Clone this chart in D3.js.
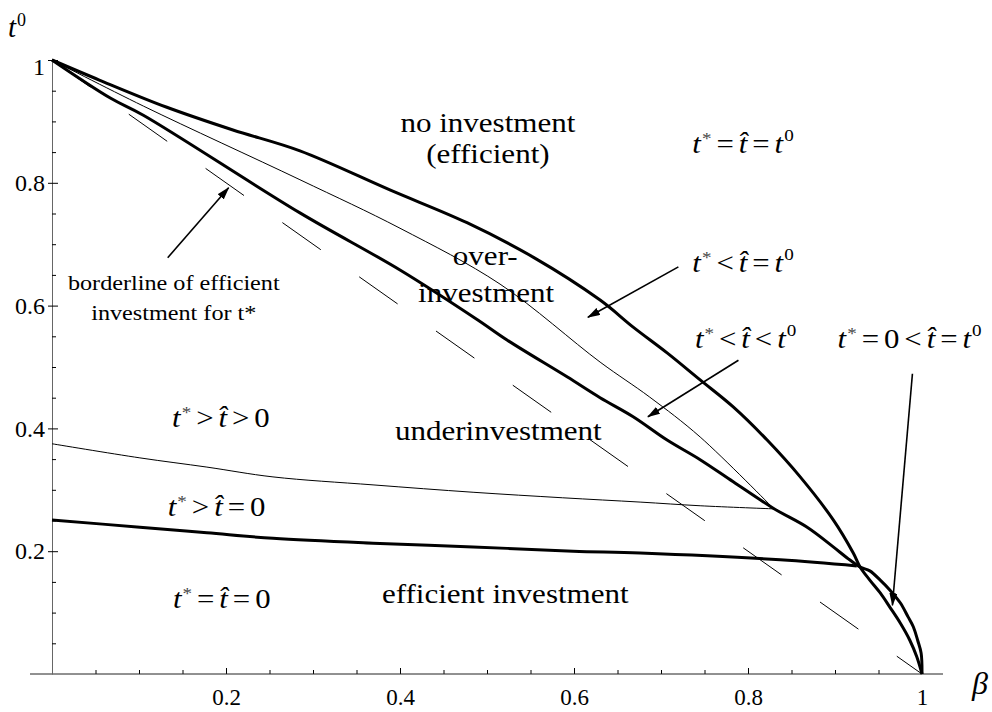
<!DOCTYPE html>
<html>
<head>
<meta charset="utf-8">
<script src="https://cdn.jsdelivr.net/npm/d3@7"></script>
<style>
body { margin: 0; background: #fff; }
svg text { font-family: "Liberation Serif", "Times New Roman", serif; fill: #000; }
</style>
</head>
<body>
<script>
var width = 992, height = 712;

// boundary curves, as [beta, t0]
var noInvestBorder = [[0,1],[0.055,0.967],[0.132,0.923],[0.208,0.886],[0.285,0.852],[0.389,0.788],
	[0.477,0.735],[0.553,0.679],[0.630,0.609],[0.668,0.565],[0.707,0.523],[0.745,0.479],[0.783,0.435],
	[0.822,0.381],[0.860,0.321],[0.898,0.251],[0.921,0.197],[0.929,0.174],[0.940,0.153],[0.952,0.132],
	[0.963,0.109],[0.975,0.083],[0.986,0.055],[0.994,0.028],[1,0]];
var overInvestBorder = [[0,1],[0.067,0.938],[0.105,0.910],[0.285,0.751],[0.400,0.658],[0.489,0.577],
	[0.523,0.544],[0.592,0.484],[0.630,0.450],[0.668,0.419],[0.707,0.381],[0.745,0.349],[0.783,0.313],
	[0.829,0.270],[0.868,0.239],[0.898,0.207],[0.914,0.189],[0.929,0.174],[0.940,0.168],[0.952,0.153],
	[0.963,0.137],[0.975,0.116],[0.984,0.093],[0.990,0.077],[0.995,0.055],[0.999,0.034],[1,0]];
var hatBorder = [[0,1],[0.105,0.925],[0.285,0.805],[0.400,0.726],[0.515,0.635],[0.630,0.508],
	[0.687,0.451],[0.745,0.386],[0.829,0.270]];
var upperZeroBorder = [[0,0.375],[0.101,0.352],[0.178,0.337],[0.254,0.321],[0.369,0.308],[0.484,0.296],
	[0.587,0.287],[0.676,0.280],[0.745,0.274],[0.829,0.269]];
var lowerZeroBorder = [[0,0.251],[0.101,0.239],[0.178,0.230],[0.254,0.221],[0.369,0.213],[0.484,0.207],
	[0.599,0.200],[0.676,0.197],[0.837,0.186],[0.925,0.176]];
var efficientStar = [[0,1],[1,0]];

var xTicks = [0.2, 0.4, 0.6, 0.8, 1];
var yTicks = [0.2, 0.4, 0.6, 0.8, 1];
var minorTicks = d3.range(1, 20).map(function(i){ return i / 20; }).filter(function(v, i){ return (i + 1) % 4 != 0; });

// text labels [beta, t0, text]
var regionLabels = [[0.501,0.883,"no investment"],[0.501,0.832,"(efficient)"],[0.498,0.666,"over-"],
	[0.499,0.606,"investment"],[0.513,0.381,"underinvestment"],[0.521,0.116,"efficient investment"]];
var noteLabels = [[0.140,0.625,"borderline of efficient"],[0.140,0.577,"investment for t*"]];
var mathLabels = [
	[0.736,0.849,[["t","*"],"=",["t\u0302"],"=",["t","0"]]],
	[0.736,0.655,[["t","*"],"<",["t\u0302"],"=",["t","0"]]],
	[0.739,0.531,[["t","*"],"<",["t\u0302"],"<",["t","0"]]],
	[0.903,0.531,[["t","*"],"=","0","<",["t\u0302"],"=",["t","0"]]],
	[0.138,0.402,[["t","*"],">",["t\u0302"],">","0"]],
	[0.133,0.257,[["t","*"],">",["t\u0302"],"=","0"]],
	[0.139,0.107,[["t","*"],"=",["t\u0302"],"=","0"]]
];
// arrows [from beta, from t0, to beta, to t0]
var arrows = [[0.133,0.678,0.203,0.792],[0.720,0.663,0.616,0.581],[0.789,0.511,0.685,0.419],[0.989,0.489,0.966,0.112]];

var x = d3.scaleLinear().domain([0, 1]).range([52, 922]);
var y = d3.scaleLinear().domain([0, 1]).range([674, 60]);

var svg = d3.select("body").append("svg")
	.attr("width", width)
	.attr("height", height);

svg.append("defs").append("marker")
	.attr("id", "head")
	.attr("markerUnits", "userSpaceOnUse")
	.attr("markerWidth", 13).attr("markerHeight", 8)
	.attr("refX", 12).attr("refY", 4)
	.attr("orient", "auto")
	.append("path")
	.attr("d", "M0,0 L13,4 L0,8 Z");

// axes
var xAxis = svg.append("g").attr("transform", "translate(0," + y(0) + ")")
	.call(d3.axisBottom(x).tickValues(xTicks).tickSizeInner(-6).tickSizeOuter(0)
		.tickFormat(function(d){ return d == 1 ? "1" : d.toFixed(1); }));
xAxis.select(".domain").remove();
xAxis.selectAll("text").attr("y", 31).attr("dy", null).attr("font-size", 23);
xAxis.append("g").call(d3.axisBottom(x).tickValues(minorTicks).tickSize(-4).tickFormat(""))
	.select(".domain").remove();
xAxis.append("line").attr("x1", 30).attr("x2", 943).attr("stroke", "#222");

var yAxis = svg.append("g").attr("transform", "translate(" + x(0) + ",0)")
	.call(d3.axisLeft(y).tickValues(yTicks).tickSizeInner(-6).tickSizeOuter(0).tickPadding(7)
		.tickFormat(function(d){ return d == 1 ? "1" : d.toFixed(1); }));
yAxis.select(".domain").attr("stroke", "#666");
yAxis.selectAll(".tick line").attr("x1", -4);
yAxis.selectAll("text").attr("font-size", 24).attr("dy", function(d){ return d == 1 ? "0.62em" : "0.32em"; });
yAxis.append("g").call(d3.axisLeft(y).tickValues(minorTicks).tickSize(-4).tickFormat(""))
	.select(".domain").remove();

// curves
var line = d3.line()
	.x(function(d){ return x(d[0]); })
	.y(function(d){ return y(d[1]); })
	.curve(d3.curveCatmullRom.alpha(0.5));

var curves = [
	[noInvestBorder, 3, null],
	[overInvestBorder, 3, null],
	[hatBorder, 1, null],
	[upperZeroBorder, 1, null],
	[lowerZeroBorder, 3, null],
	[efficientStar, 1, "47,47"]
];
svg.selectAll(".curve")
	.data(curves)
	.enter().append("path")
	.attr("class", "curve")
	.attr("d", function(d){ return line(d[0]); })
	.attr("fill", "none")
	.attr("stroke", "#000")
	.attr("stroke-width", function(d){ return d[1]; })
	.attr("stroke-linejoin", "round")
	.attr("stroke-dasharray", function(d){ return d[2]; });

// arrows
svg.selectAll(".arrow")
	.data(arrows)
	.enter().append("line")
	.attr("class", "arrow")
	.attr("x1", function(d){ return x(d[0]); })
	.attr("y1", function(d){ return y(d[1]); })
	.attr("x2", function(d){ return x(d[2]); })
	.attr("y2", function(d){ return y(d[3]); })
	.attr("stroke", "#000")
	.attr("stroke-width", 1.6)
	.attr("marker-end", "url(#head)");

// labels
svg.selectAll(".region")
	.data(regionLabels)
	.enter().append("text")
	.attr("class", "region")
	.attr("transform", function(d){ return "translate(" + x(d[0]) + "," + y(d[1]) + ") scale(1.15,1)"; })
	.attr("text-anchor", "middle")
	.attr("font-size", 27)
	.text(function(d){ return d[2]; });

svg.selectAll(".note")
	.data(noteLabels)
	.enter().append("text")
	.attr("class", "note")
	.attr("transform", function(d){ return "translate(" + x(d[0]) + "," + y(d[1]) + ") scale(1.1,1)"; })
	.attr("text-anchor", "middle")
	.attr("font-size", 22)
	.text(function(d){ return d[2]; });

function mathText(t, tokens, fs) {
	var shift = 0;
	tokens.forEach(function(tok, i) {
		var gap = i == 0 ? 0 : fs * 0.16;
		if (Array.isArray(tok)) {
			t.append("tspan").attr("font-style", "italic").attr("dx", gap).attr("dy", -shift).text(tok[0]);
			shift = 0;
			if (tok[1]) {
				var up = tok[1] == "*" ? fs * 0.32 : fs * 0.42;
				t.append("tspan").attr("font-size", fs * 0.62).attr("dx", 1).attr("dy", -up)
					.attr("fill", tok[1] == "*" ? "#444" : "#000").text(tok[1]);
				shift = -up;
			}
		} else {
			t.append("tspan").attr("dx", gap).attr("dy", -shift).text(tok);
			shift = 0;
		}
	});
}

svg.selectAll(".math")
	.data(mathLabels)
	.enter().append("text")
	.attr("class", "math")
	.attr("transform", function(d){ return "translate(" + x(d[0]) + "," + y(d[1]) + ") scale(1.1,1)"; })
	.attr("font-size", 28)
	.each(function(d){ mathText(d3.select(this), d[2], 28); });

// axis titles
var yTitle = svg.append("text").attr("x", 8).attr("y", 37).attr("font-size", 29);
yTitle.append("tspan").attr("font-style", "italic").text("t");
yTitle.append("tspan").attr("font-size", 18).attr("dx", 1).attr("dy", -11).text("0");

svg.append("text").attr("x", 972).attr("y", 694).attr("font-size", 32)
	.attr("font-style", "italic").text("\u03b2");
</script>
</body>
</html>
